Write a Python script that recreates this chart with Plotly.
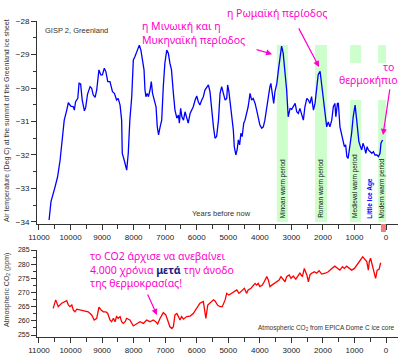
import plotly.graph_objects as go

# ---------------- data ----------------
temp_years = [10680, 10620, 10490, 10410, 10330, 10260, 10200, 10120, 10070, 9990, 9910, 9880, 9840, 9770, 9730,
              9680, 9630, 9560, 9520, 9460, 9380, 9330, 9280, 9220, 9170, 9100, 9040, 8990, 8930, 8880, 8820,
              8750, 8670, 8610, 8540, 8490, 8430, 8380, 8360, 8300, 8220, 8170, 8120, 8060, 8010, 7960, 7880,
              7820, 7770, 7710, 7670, 7640, 7610, 7570, 7530, 7480, 7440, 7400, 7350, 7290, 7250, 7210, 7160,
              7110, 7060, 7010, 6950, 6900, 6850, 6800, 6740, 6690, 6630, 6580, 6550, 6510, 6470, 6420, 6370,
              6320, 6270, 6210, 6160, 6110, 6050, 6000, 5950, 5900, 5840, 5790, 5740, 5680, 5630, 5580, 5530,
              5470, 5420, 5370, 5310, 5260, 5210, 5160, 5100, 5050, 5020, 4980, 4910, 4870, 4840, 4810, 4760,
              4720, 4680, 4640, 4600, 4560, 4510, 4470, 4420, 4370, 4310, 4260, 4210, 4150, 4100, 4050, 4000,
              3940, 3890, 3840, 3780, 3730, 3680, 3650, 3600, 3560, 3520, 3460, 3410, 3360, 3310, 3260, 3200,
              3150, 3100, 3040, 2990, 2940, 2880, 2830, 2780, 2730, 2670, 2620, 2570, 2510, 2460, 2410, 2360,
              2300, 2250, 2200, 2150, 2090, 2040, 1990, 1930, 1880, 1830, 1780, 1720, 1670, 1620, 1590, 1540,
              1510, 1460, 1400, 1350, 1320, 1280, 1240, 1200, 1140, 1090, 1040, 980, 940, 900, 860, 810, 770,
              730, 690, 640, 600, 560, 510, 450, 400, 350, 290, 240, 190, 160, 110]
temp_vals = [-33.94, -33.39, -32.95, -32.65, -32.15, -31.55, -30.96, -30.66, -30.44, -30.54, -30.56, -30.66, -30.41,
             -30.31, -29.86, -29.88, -30.36, -30.68, -30.58, -30.18, -29.96, -30.01, -30.21, -30.28, -30.06, -29.46,
             -29.61, -29.61, -29.41, -29.51, -29.81, -29.81, -30.11, -30.16, -30.36, -30.31, -30.51, -30.96, -31.95,
             -32.15, -32.45, -31.95, -30.96, -30.26, -29.16, -29.07, -28.87, -28.72, -28.87, -29.26, -29.46, -30.06,
             -30.26, -30.16, -30.26, -30.06, -29.81, -30.16, -30.36, -30.56, -31.16, -31.40, -31.16, -30.96, -29.96,
             -29.26, -28.87, -28.96, -29.26, -29.46, -30.16, -30.66, -30.90, -30.81, -31.05, -30.61, -30.86, -30.96,
             -30.71, -30.86, -31.05, -30.76, -30.66, -30.56, -30.36, -30.24, -30.41, -30.51, -30.36, -30.26, -30.06,
             -29.96, -29.91, -30.11, -30.66, -31.16, -31.50, -31.45, -30.96, -30.16, -29.96, -30.16, -30.36, -30.31,
             -29.91, -30.11, -30.66, -30.96, -31.25, -31.75, -32.00, -31.85, -31.55, -31.70, -31.35, -31.45, -31.05,
             -30.96, -30.76, -30.56, -30.16, -30.36, -30.31, -30.46, -30.66, -30.86, -31.10, -31.20, -31.16, -30.96,
             -30.56, -30.16, -29.96, -29.86, -30.21, -30.46, -30.11, -29.86, -29.46, -29.07, -28.75, -28.96, -29.56,
             -30.06, -30.86, -30.61, -30.64, -30.56, -30.46, -30.71, -30.76, -30.61, -30.81, -30.96, -30.56, -30.31,
             -30.36, -30.46, -30.26, -30.66, -30.46, -29.90, -29.60, -29.50, -29.90, -30.36, -30.86, -31.16, -31.01,
             -31.16, -30.96, -30.56, -30.46, -30.86, -30.46, -30.46, -31.16, -31.45, -31.60, -31.75, -31.70, -32.05,
             -32.10, -31.75, -31.35, -30.86, -30.51, -30.86, -31.35, -31.60, -31.75, -31.85, -31.65, -31.75, -31.95,
             -31.75, -31.85, -31.90, -31.95, -31.90, -32.00, -32.00, -32.05, -31.95, -31.65, -31.55]

co2_years = [10550, 10470, 10390, 10280, 10120, 10070, 10020, 9960, 9910, 9860, 9800, 9650, 9440, 9330, 9250, 9170,
             9100, 9030, 8960, 8880, 8820, 8750, 8700, 8640, 8590, 8540, 8490, 8430, 8380, 8330, 8270, 8220, 8120,
             8010, 7900, 7800, 7690, 7590, 7480, 7380, 7300, 7240, 7160, 7060, 6980, 6920, 6850, 6790, 6740, 6690,
             6630, 6580, 6530, 6480, 6420, 6320, 6210, 6110, 6000, 5900, 5790, 5740, 5710, 5650, 5580, 5470, 5420,
             5340, 5260, 5190, 5100, 5050, 4980, 4890, 4810, 4730, 4660, 4570, 4490, 4420, 4370, 4280, 4240, 4150,
             4100, 4050, 4000, 3920, 3860, 3780, 3730, 3680, 3620, 3540, 3460, 3390, 3330, 3260, 3200, 3150, 3070,
             3010, 2940, 2860, 2800, 2730, 2650, 2590, 2510, 2460, 2410, 2360, 2270, 2200, 2120, 2040, 1930, 1830,
             1720, 1620, 1530, 1460, 1380, 1320, 1250, 1170, 1090, 1000, 930, 880, 800, 740, 670, 610, 560, 530,
             490, 430, 400, 330, 280, 220, 170]
co2_vals = [264.4, 267.4, 265.0, 266.2, 267.1, 265.6, 265.0, 265.6, 263.8, 263.2, 264.1, 263.8, 263.2, 262.1, 260.3,
            260.9, 264.8, 263.8, 263.2, 263.2, 262.6, 260.3, 259.7, 260.9, 259.7, 261.5, 260.9, 261.5, 259.7, 259.1,
            259.7, 260.9, 260.3, 258.2, 258.9, 259.7, 259.1, 260.3, 259.7, 260.3, 259.7, 258.9, 260.9, 262.9, 262.1,
            260.3, 257.9, 257.3, 257.9, 262.1, 262.6, 261.5, 260.3, 261.5, 260.6, 261.5, 261.7, 262.6, 264.4, 266.2,
            266.8, 262.6, 260.9, 265.6, 266.2, 267.4, 267.0, 265.6, 265.0, 265.0, 267.4, 269.7, 269.1, 269.7, 270.3,
            270.9, 269.7, 270.6, 271.5, 269.7, 270.9, 271.5, 272.1, 273.2, 272.6, 273.2, 272.1, 272.6, 273.8, 275.6,
            274.4, 272.1, 272.6, 273.2, 273.8, 274.4, 275.6, 274.4, 273.8, 275.6, 276.2, 275.0, 275.8, 274.7, 275.8,
            276.8, 275.6, 278.5, 276.2, 273.8, 276.2, 276.8, 277.3, 276.8, 277.7, 276.5, 276.8, 277.3, 278.5, 279.3,
            278.5, 277.9, 279.1, 278.5, 279.3, 278.5, 277.9, 278.5, 279.7, 280.3, 281.5, 282.6, 281.7, 280.9, 277.9,
            280.9, 282.1, 279.7, 277.9, 275.0, 277.9, 278.2, 280.5]

x_tick_vals = [11000, 10000, 9000, 8000, 7000, 6000, 5000, 4000, 3000, 2000, 1000, 0]
x_tick_text = [str(v) for v in x_tick_vals]

band_names = ["Minoan warm period", "Roman warm period", "Medieval warm period", "Modern warm period"]
band_start = [3460, 2250, 1140, 250]
band_end = [3110, 1870, 790, 0]
band_split = [False, False, True, True]

# ---------------- layout helpers ----------------
W, H = 400, 357
ML, MR, MT, MB = 37, 2, 21, 20
PW, PH = W - ML - MR, H - MT - MB


def px(x):
    return (x - ML) / PW


def py(y):
    return (H - MB - y) / PH


XR = [11063, -380]
MAG = "#ff00cc"
TICKFONT = dict(family="Liberation Sans, Arial", size=8, color="#222")

fig = go.Figure()
fig.add_trace(go.Scatter(x=temp_years, y=temp_vals, xaxis="x2", yaxis="y2", mode="lines",
                         line=dict(color="#0000ff", width=1.3), showlegend=False))
fig.add_trace(go.Scatter(x=co2_years, y=co2_vals, xaxis="x", yaxis="y", mode="lines",
                         line=dict(color="#ff0000", width=1.3), showlegend=False))

shapes = []
for name, s, e, split in zip(band_names, band_start, band_end, band_split):
    if split:
        parts = [(-29.25, -28.72), (-34.0, -30.36)]
    else:
        parts = [(-34.0, -28.72)]
    for y0, y1 in parts:
        shapes.append(dict(type="rect", xref="x2", yref="y2", x0=s, x1=e, y0=y0, y1=y1,
                           fillcolor="#ccffcc", line=dict(width=0), layer="below"))
# small red marker on the axis at present
shapes.append(dict(type="rect", xref="x2", yref="paper", x0=160, x1=0, y0=py(232), y1=py(224),
                   fillcolor="#f08080", line=dict(width=0), layer="above"))

ann = []
for name, s, e in zip(band_names, band_start, band_end):
    ann.append(dict(x=(s + e) / 2, y=-33.95, xref="x2", yref="y2", text=name, textangle=-90,
                    showarrow=False, xanchor="center", yanchor="bottom",
                    font=dict(family="Liberation Sans, Arial", size=6.5, color="#111")))
ann.append(dict(x=510, y=-33.95, xref="x2", yref="y2", text="<b>Little Ice Age</b>", textangle=-90,
                showarrow=False, xanchor="center", yanchor="bottom",
                font=dict(family="Liberation Sans, Arial", size=6.5, color="#0000ff")))

def txt(x, y, text, size=7.5, xanchor="left", yanchor="middle", angle=0, color="#333",
        family="Liberation Sans, Arial", align="left"):
    ann.append(dict(x=px(x), y=py(y), xref="paper", yref="paper", text=text, showarrow=False,
                    xanchor=xanchor, yanchor=yanchor, textangle=angle, align=align,
                    font=dict(family=family, size=size, color=color)))

txt(43, 31, "GISP 2, Greenland", size=7.5)
txt(190, 213, "Years before now", size=7.5)
txt(397, 328, "Atmospheric CO<sub>2</sub> from EPICA Dome C ice core", size=6.5, xanchor="right")
txt(7, 121, "Air temperature (Deg C) at the summit of the Greenland ice sheet", size=7,
    xanchor="center", angle=-90)
txt(7, 290, "Atmospheric CO<sub>2</sub> (ppm)", size=7, xanchor="center", angle=-90)

GF = "Noto Sans"
GS = 10.5
txt(140, 17, "η Μινωική και η<br>Μυκηναϊκή περίοδος", size=GS, color=MAG, family=GF, yanchor="top")
txt(225, 13, "η Ρωμαϊκή περίοδος", size=GS, color=MAG, family=GF)
txt(388, 67, "το", size=GS, color=MAG, family=GF, xanchor="center")
txt(337, 80, "θερμοκήπιο", size=GS, color=MAG, family=GF)
txt(88, 247, "το CO2 άρχισε να ανεβαίνει<br>4.000 χρόνια <b><span style='color:#1a1a80'>μετά</span></b> την άνοδο<br>της θερμοκρασίας!",
    size=GS, color=MAG, family=GF, yanchor="top")

# arrows
for (hx, hy, ax, ay, xr, yr) in [(3610, -28.99, -17, -5, "x2", "y2"),
                                 (2124, -29.37, -21, -40, "x2", "y2"),
                                 (95, -31.40, 7, -47, "x2", "y2"),
                                 (7260, 262.1, -10, -22, "x", "y")]:
    ann.append(dict(x=hx, y=hy, xref=xr, yref=yr, text="", showarrow=True, ax=ax, ay=ay,
                    arrowhead=2, arrowsize=1, arrowwidth=1.2, arrowcolor=MAG))

axis_common = dict(showline=True, linecolor="#333", linewidth=1, showgrid=False, zeroline=False,
                   ticks="outside", ticklen=5, tickcolor="#333", tickfont=TICKFONT)

fig.update_layout(
    width=W, height=H, margin=dict(l=ML, r=MR, t=MT, b=MB),
    paper_bgcolor="white", plot_bgcolor="white", showlegend=False,
    xaxis=dict(domain=[0, 1], anchor="y", range=XR, tickvals=x_tick_vals, ticktext=x_tick_text,
               minor=dict(dtick=500, tick0=0, ticks="outside", ticklen=4, tickcolor="#333"), **axis_common),
    yaxis=dict(domain=[0, py(250)], anchor="x", range=[254.3, 285], dtick=5, tick0=255,
               minor=dict(dtick=2.5, ticks="outside", ticklen=3, tickcolor="#333"),
               **{**axis_common, "tickfont": dict(family="Liberation Sans, Arial", size=7, color="#222")}),
    xaxis2=dict(domain=[0, 1], anchor="y2", range=XR, tickvals=x_tick_vals, ticktext=x_tick_text,
                minor=dict(dtick=500, tick0=0, ticks="outside", ticklen=4, tickcolor="#333"), **axis_common),
    yaxis2=dict(domain=[py(224), 1], anchor="x2", range=[-34.06, -28], dtick=1, tick0=-28,
                minor=dict(dtick=0.5, ticks="outside", ticklen=3, tickcolor="#333"), **axis_common),
    shapes=shapes, annotations=ann,
)

fig.write_html("out.html", config={"displayModeBar": False},
               post_script="document.body.style.margin='0';")
